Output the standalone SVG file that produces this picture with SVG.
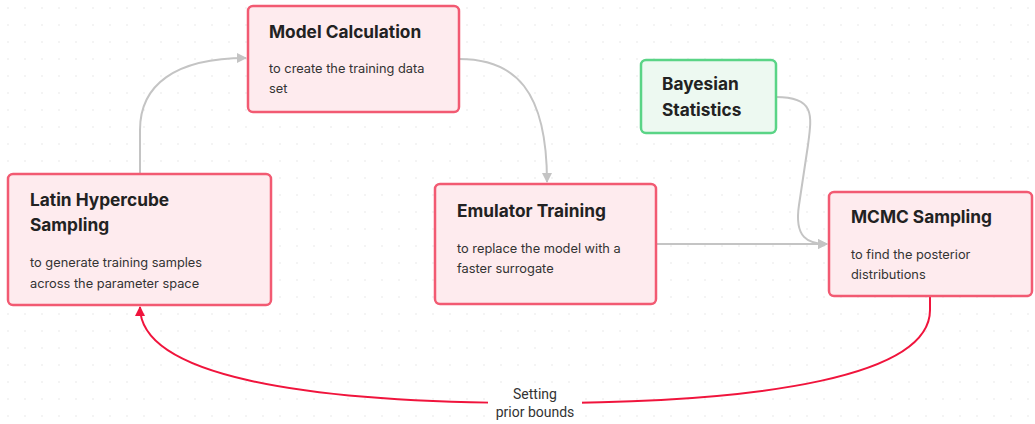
<svg xmlns="http://www.w3.org/2000/svg" width="1035" height="424" viewBox="0 0 1035 424">
<defs>
<pattern id="dots" width="17" height="17" patternUnits="userSpaceOnUse"><circle cx="8" cy="8" r="0.8" fill="#e6e6e6"/></pattern>
<marker id="ag" markerWidth="10" markerHeight="10" refX="9" refY="5" orient="auto" markerUnits="userSpaceOnUse"><path d="M0,0 L10,5 L0,10 Z" fill="#c4c4c4"/></marker>
<marker id="ar" markerWidth="10" markerHeight="10" refX="9" refY="5" orient="auto" markerUnits="userSpaceOnUse"><path d="M0,0 L10,5 L0,10 Z" fill="#f0143c"/></marker>
<style>
.box{fill:#feebee;stroke:#f25a72;stroke-width:2.5}
.green{fill:#edf9f1;stroke:#5ad486;stroke-width:2.5}
.t{font-family:Inter,"Liberation Sans",sans-serif;font-weight:700;font-size:17.3px;fill:#222}
.s{font-family:Inter,"Liberation Sans",sans-serif;font-size:12.8px;fill:#333}
.c{fill:none;stroke:#c4c4c4;stroke-width:2}
.r{fill:none;stroke:#f0143c;stroke-width:2}
.l{font-family:Roboto,"Liberation Sans",sans-serif;font-size:14px;fill:#333;text-anchor:middle}
</style>
</defs>
<rect width="1035" height="424" fill="#fff"/>
<rect width="1035" height="424" fill="url(#dots)"/>
<g id="connectors">
<path class="c" d="M140 174 L140 130 C140 85 175 58 246 58" marker-end="url(#ag)"/>
<path class="c" d="M459 59 C515 59 547 90 547 182" marker-end="url(#ag)"/>
<path class="c" d="M656 244 L827 244" marker-end="url(#ag)"/>
<path class="c" d="M776 97 C815 97 812 115 808 145 L799 205 C794 238 808 244 827 244" marker-end="url(#ag)"/>
<path class="r" d="M930 296 L930 310 C930 375 770 403 535 403 C300 403 140 375 140 307" marker-end="url(#ar)"/>
<rect x="488" y="386" width="94" height="34" fill="#fff"/>
<text class="l" x="535" y="399">Setting</text>
<text class="l" x="535" y="417">prior bounds</text>
</g>
<g id="model-calculation">
<rect class="box" x="248" y="6" width="211" height="106" rx="5"/>
<text class="t" x="269" y="38">Model Calculation</text>
<text class="s" x="269" y="73">to create the training data</text>
<text class="s" x="269" y="93">set</text>
</g>
<g id="latin-hypercube">
<rect class="box" x="8" y="174" width="263" height="131" rx="5"/>
<text class="t" x="30" y="206">Latin Hypercube</text>
<text class="t" x="30" y="231">Sampling</text>
<text class="s" x="30" y="267">to generate training samples</text>
<text class="s" x="30" y="288">across the parameter space</text>
</g>
<g id="emulator-training">
<rect class="box" x="435" y="184" width="221" height="120" rx="5"/>
<text class="t" x="457" y="217">Emulator Training</text>
<text class="s" x="457" y="253">to replace the model with a</text>
<text class="s" x="457" y="273">faster surrogate</text>
</g>
<g id="bayesian-statistics">
<rect class="green" x="641" y="60" width="135" height="73" rx="5"/>
<text class="t" x="662" y="90">Bayesian</text>
<text class="t" x="662" y="116">Statistics</text>
</g>
<g id="mcmc-sampling">
<rect class="box" x="829" y="192" width="203" height="104" rx="5"/>
<text class="t" x="851" y="223">MCMC Sampling</text>
<text class="s" x="851" y="259">to find the posterior</text>
<text class="s" x="851" y="279">distributions</text>
</g>
</svg>
